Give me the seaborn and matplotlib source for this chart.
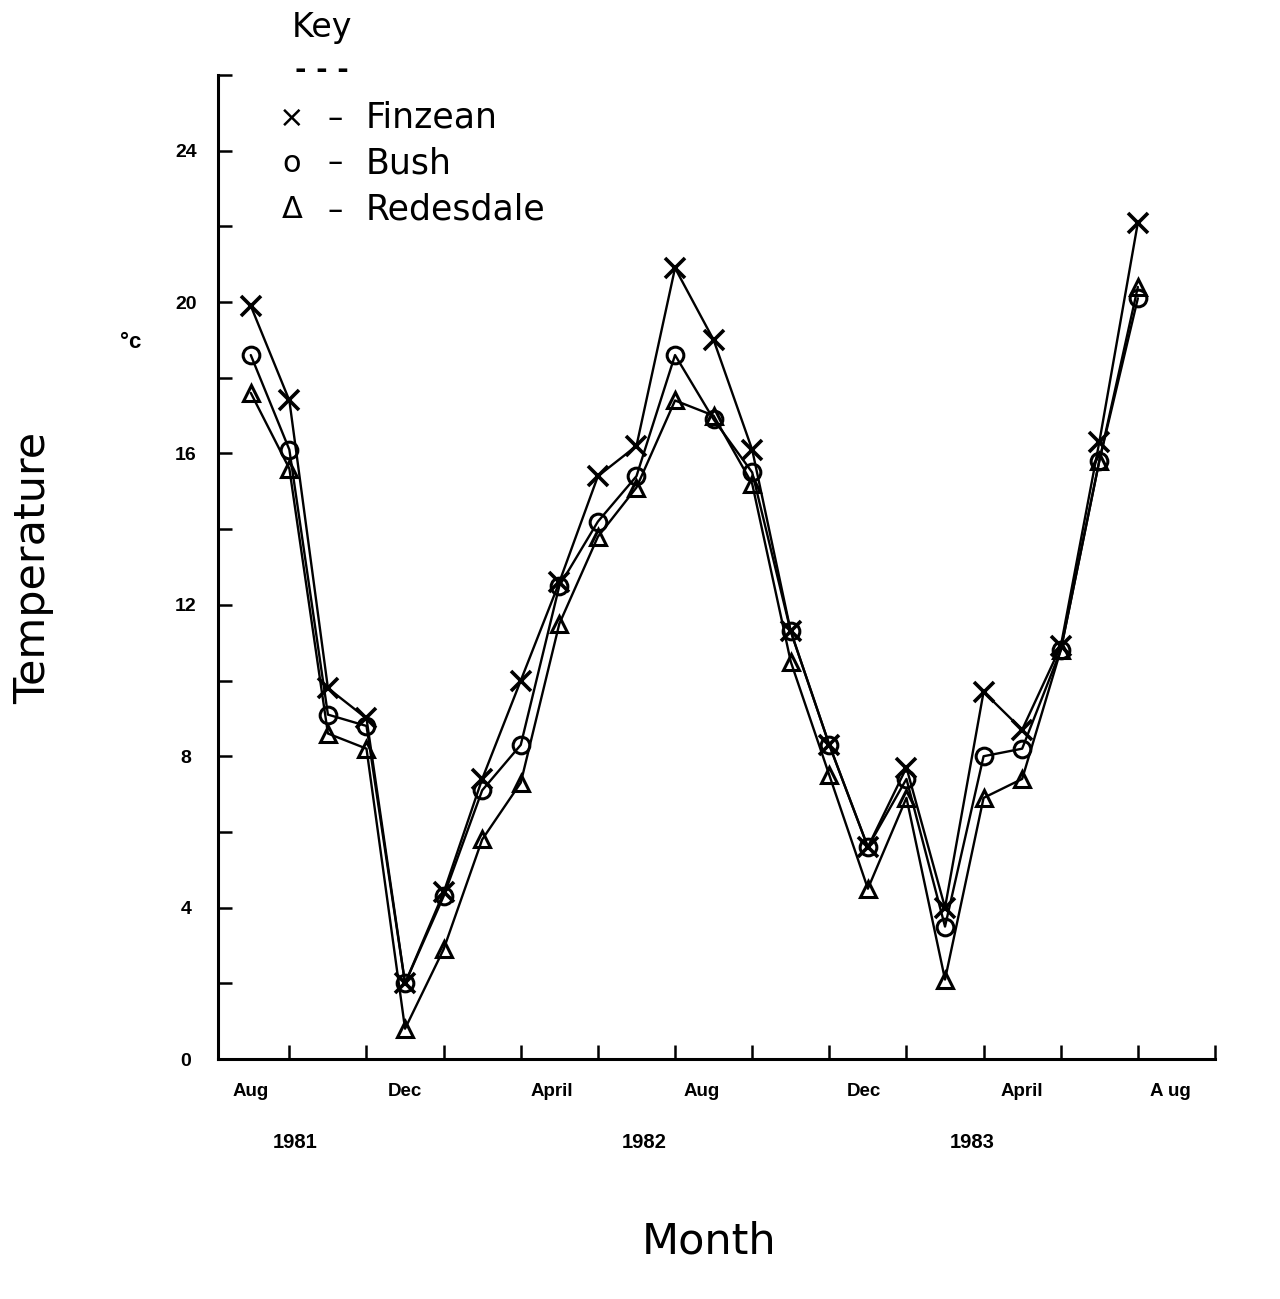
import matplotlib
matplotlib.use("Agg")
import matplotlib.pyplot as plt
import matplotlib.transforms as mtransforms
import seaborn as sns
import pandas as pd

# ---- data ----
month_index = list(range(24))  # Aug 1981 ... Jul 1983
finzean = [19.9, 17.4, 9.8, 9.0, 2.0, 4.4, 7.4, 10.0, 12.6, 15.4, 16.2, 20.9,
           19.0, 16.1, 11.3, 8.3, 5.6, 7.7, 4.0, 9.7, 8.7, 10.9, 16.3, 22.1]
bush = [18.6, 16.1, 9.1, 8.8, 2.0, 4.3, 7.1, 8.3, 12.5, 14.2, 15.4, 18.6,
        16.9, 15.5, 11.3, 8.3, 5.6, 7.4, 3.5, 8.0, 8.2, 10.8, 15.8, 20.1]
redesdale = [17.6, 15.6, 8.6, 8.2, 0.8, 2.9, 5.8, 7.3, 11.5, 13.8, 15.1, 17.4,
             17.0, 15.2, 10.5, 7.5, 4.5, 6.9, 2.1, 6.9, 7.4, 10.8, 15.8, 20.4]
month_labels = ["Aug", "Dec", "April", "Aug", "Dec", "April", "A ug"]
month_label_pos = [0, 4, 7.8, 11.7, 15.9, 20.0, 23.85]
year_labels = ["1981", "1982", "1983"]
year_label_pos = [1.15, 10.2, 18.7]
y_major = [0, 4, 8, 12, 16, 20, 24]
y_minor = [2, 6, 10, 14, 18, 22, 26]
x_ticks = list(range(1, 26, 2))

sites = {"Finzean": (finzean, "x"), "Bush": (bush, "o"), "Redesdale": (redesdale, "^")}

sns.set_theme(style="white")
plt.rcParams["font.family"] = ["DejaVu Sans"]
plt.rcParams["text.color"] = "black"
plt.rcParams["xtick.color"] = "black"
plt.rcParams["ytick.color"] = "black"
plt.rcParams["xtick.labelcolor"] = "black"
plt.rcParams["ytick.labelcolor"] = "black"

W, H = 1280, 1299
fig = plt.figure(figsize=(W / 100, H / 100), dpi=100)
fig.patch.set_facecolor("white")

left, right, top, bottom = 218, 1215, 75, 1059
ax = fig.add_axes([left / W, 1 - bottom / H, (right - left) / W, (bottom - top) / H])
ax.set_facecolor("white")

for name, (vals, mk) in sites.items():
    df = pd.DataFrame({"month": month_index, "temp": vals})
    sns.lineplot(data=df, x="month", y="temp", ax=ax, color="black", lw=1.7,
                 marker=mk, markersize=14 if mk == "x" else 12,
                 markerfacecolor="none", markeredgecolor="black",
                 markeredgewidth=2.6 if mk == "x" else 2.2, legend=False)

ax.set_xlim(-0.85, 24.95)
ax.set_ylim(0, 26)

for s in ["top", "right"]:
    ax.spines[s].set_visible(False)
for s in ["left", "bottom"]:
    ax.spines[s].set_linewidth(2.2)
    ax.spines[s].set_color("black")

ax.set_yticks(y_major)
ax.set_yticks(y_minor, minor=True)
ax.set_yticklabels([str(v) for v in y_major], fontsize=14, fontweight="bold",
                   family="Liberation Sans", ha="center", color="black")
ax.tick_params(axis="y", which="major", direction="in", length=10, width=1.8,
               pad=23, left=True, colors="black")
ax.tick_params(axis="y", which="minor", direction="in", length=10, width=1.8,
               left=True, colors="black")

ax.set_xticks(x_ticks)
ax.set_xticklabels([""] * len(x_ticks))
ax.set_xticks(month_label_pos, minor=True)
ax.set_xticklabels(month_labels, minor=True, fontsize=13.5, fontweight="bold",
                   family="Liberation Sans", color="black")
ax.tick_params(axis="x", which="major", direction="in", length=10, width=1.8,
               bottom=True, colors="black")
ax.tick_params(axis="x", which="minor", length=0, pad=17, bottom=True,
               colors="black")

ax.set_xlabel("")
ax.set_ylabel("")

trans = mtransforms.blended_transform_factory(ax.transData, ax.transAxes)
for lab, pos in zip(year_labels, year_label_pos):
    ax.text(pos, -(1142 - bottom) / (bottom - top), lab, transform=trans,
            ha="center", va="center", fontsize=14.5, fontweight="bold",
            family="Liberation Sans", color="black")


def px(x, y):
    return x / W, 1 - y / H


fig.text(*px(709, 1242), "Month", ha="center", va="center", fontsize=31,
         color="black")
fig.text(*px(33, 568), "Temperature", ha="center", va="center", fontsize=31,
         rotation=90, color="black")
fig.text(*px(131, 342), "°c", ha="center", va="center", fontsize=16,
         fontweight="bold", family="Liberation Sans", color="black")

# key
fig.text(*px(322, 28), "Key", ha="center", va="center", fontsize=24,
         color="black")
fig.text(*px(322, 70), "- - -", ha="center", va="center", fontsize=20,
         fontweight="bold", color="black")
key_rows = [("×", "Finzean", 118), ("o", "Bush", 163), ("Δ", "Redesdale", 210)]
for sym, name, yy in key_rows:
    fig.text(*px(292, yy), sym, ha="center", va="center", fontsize=22,
             color="black")
    fig.text(*px(335, yy), "–", ha="center", va="center", fontsize=22,
             color="black")
    fig.text(*px(366, yy), name, ha="left", va="center", fontsize=25,
             color="black")

fig.savefig("out.png", dpi=100, facecolor="white")
